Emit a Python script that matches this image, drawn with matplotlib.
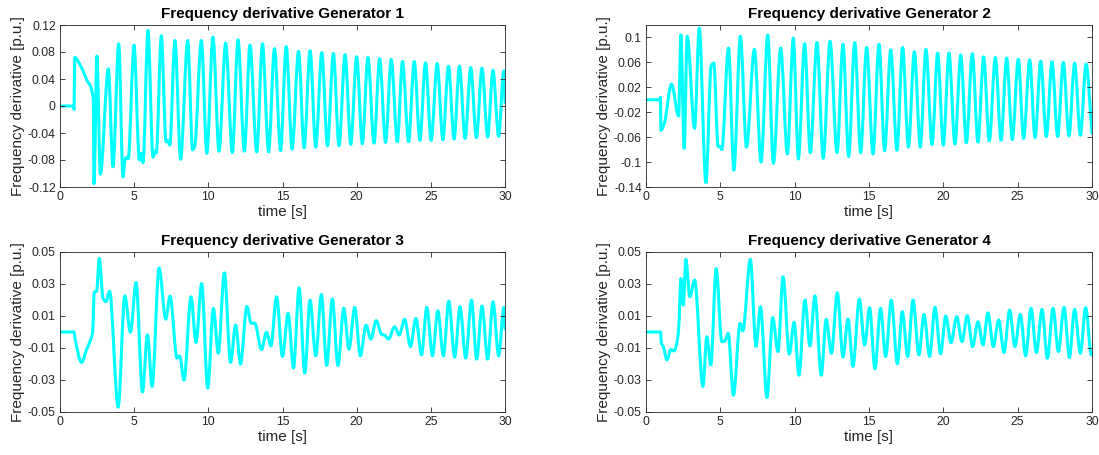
import matplotlib
matplotlib.use("Agg")
import matplotlib.pyplot as plt
import numpy as np
from matplotlib.path import Path
from matplotlib.patches import PathPatch

plt.rcParams['font.family'] = ['Liberation Sans', 'DejaVu Sans']

titles = ["Frequency derivative Generator 1", "Frequency derivative Generator 2",
          "Frequency derivative Generator 3", "Frequency derivative Generator 4"]
x_ticks = [0, 5, 10, 15, 20, 25, 30]

y_ticks_1 = [-0.12, -0.08, -0.04, 0, 0.04, 0.08, 0.12]
y_labels_1 = ['-0.12', '-0.08', '-0.04', '0', '0.04', '0.08', '0.12']
y_ticks_2 = [-0.14, -0.10, -0.06, -0.02, 0.02, 0.06, 0.10]
y_labels_2 = ['-0.14', '-0.1', '-0.06', '-0.02', '0.02', '0.06', '0.1']
y_ticks_34 = [-0.05, -0.03, -0.01, 0.01, 0.03, 0.05]
y_labels_34 = ['-0.05', '-0.03', '-0.01', '0.01', '0.03', '0.05']

# (time [s], frequency derivative [p.u.]) turning points
gen1 = [(0, 0), (0.90, 0), (0.95, -0.005), (0.99, 0.072), (1.35, 0.061), (1.80, 0.039),
        (2.25, 0.009), (2.29, -0.115), (2.49, 0.074), (2.72, -0.101), (3.26, 0.055),
        (3.57, -0.090), (3.96, 0.092), (4.25, -0.105), (4.38, -0.080), (4.49, -0.076),
        (4.60, -0.078), (4.99, 0.090), (5.35, -0.080), (5.46, -0.070), (5.60, -0.084),
        (5.93, 0.112), (6.27, -0.076), (6.38, -0.067), (6.49, -0.070), (6.83, 0.104),
        (7.15, -0.053), (7.26, -0.051), (7.40, -0.058), (7.75, 0.097), (8.13, -0.079),
        (8.61, 0.097), (8.94, -0.065), (9.08, -0.060), (9.53, 0.097), (9.90, -0.070),
        (10.31, 0.102), (10.72, -0.067), (11.17, 0.093), (11.62, -0.069), (12.00, 0.098),
        (12.43, -0.067), (12.81, 0.090), (13.26, -0.068), (13.65, 0.092), (14.06, -0.068),
        (14.46, 0.085), (14.87, -0.066), (15.25, 0.088), (15.65, -0.064), (16.08, 0.081),
        (16.46, -0.062), (16.86, 0.082), (17.24, -0.061), (17.65, 0.079), (18.03, -0.059),
        (18.43, 0.078), (18.81, -0.059), (19.22, 0.076), (19.60, -0.057), (20.00, 0.073),
        (20.38, -0.056), (20.76, 0.072), (21.17, -0.055), (21.55, 0.070), (21.95, -0.054),
        (22.33, 0.069), (22.74, -0.053), (23.09, 0.066), (23.50, -0.053), (23.88, 0.066),
        (24.26, -0.051), (24.64, 0.064), (25.02, -0.051), (25.43, 0.063), (25.81, -0.050),
        (26.19, 0.059), (26.57, -0.049), (26.93, 0.059), (27.31, -0.048), (27.69, 0.057),
        (28.07, -0.047), (28.45, 0.056), (28.83, -0.046), (29.19, 0.053), (29.57, -0.045),
        (29.92, 0.052), (30.0, 0.005)]

gen2 = [(0, 0), (0.94, 0), (0.97, 0.004), (1.00, -0.049), (1.23, -0.038), (1.72, 0.025),
        (2.19, -0.026), (2.35, 0.104), (2.57, -0.078), (2.77, 0.102), (3.27, -0.046),
        (3.58, 0.115), (4.03, -0.133), (4.38, 0.054), (4.56, 0.059), (4.85, -0.075),
        (4.98, -0.075), (5.10, -0.080), (5.55, 0.083), (5.91, -0.113), (6.35, 0.102),
        (6.76, -0.076), (7.29, 0.081), (7.74, -0.100), (8.19, 0.104), (8.57, -0.102),
        (9.06, 0.083), (9.51, -0.087), (9.91, 0.099), (10.25, -0.095), (10.67, 0.090),
        (11.05, -0.085), (11.50, 0.092), (11.92, -0.094), (12.38, 0.094), (12.85, -0.085),
        (13.25, 0.089), (13.63, -0.091), (14.04, 0.092), (14.44, -0.085), (14.84, 0.084),
        (15.27, -0.087), (15.67, 0.089), (16.05, -0.082), (16.46, 0.080), (16.88, -0.081),
        (17.26, 0.084), (17.65, -0.076), (18.05, 0.077), (18.45, -0.076), (18.83, 0.081),
        (19.24, -0.072), (19.62, 0.075), (20.00, -0.073), (20.38, 0.075), (20.78, -0.071),
        (21.17, 0.072), (21.55, -0.069), (21.95, 0.074), (22.33, -0.068), (22.71, 0.069),
        (23.09, -0.066), (23.50, 0.068), (23.88, -0.065), (24.26, 0.067), (24.64, -0.064),
        (25.04, 0.065), (25.40, -0.062), (25.81, 0.064), (26.17, -0.061), (26.55, 0.062),
        (26.93, -0.059), (27.31, 0.061), (27.69, -0.059), (28.07, 0.060), (28.45, -0.058),
        (28.83, 0.059), (29.22, -0.057), (29.60, 0.057), (30.0, -0.054)]

gen3 = [(0, 0), (0.94, 0), (1.03, -0.005), (1.46, -0.019), (1.79, -0.011), (2.06, -0.005),
        (2.20, 0.0), (2.31, 0.025), (2.47, 0.0255), (2.65, 0.046), (2.90, 0.021),
        (3.10, 0.019), (3.34, 0.0255), (3.92, -0.047), (4.37, 0.0226), (4.75, -0.0002),
        (5.13, 0.031), (5.56, -0.0375), (5.90, -0.0018), (6.21, -0.034), (6.68, 0.040),
        (7.13, 0.008), (7.42, 0.0224), (7.89, -0.0163), (8.07, -0.015), (8.36, -0.030),
        (8.83, 0.022), (9.17, -0.0066), (9.55, 0.0303), (9.96, -0.035), (10.34, 0.0147),
        (10.67, -0.0133), (11.08, 0.037), (11.50, -0.019), (11.84, 0.0044), (12.17, -0.020),
        (12.60, 0.016), (12.89, 0.0054), (13.12, 0.0056), (13.59, -0.011), (13.92, -0.0002),
        (14.22, -0.0087), (14.60, 0.022), (15.00, -0.0153), (15.38, 0.0116), (15.74, -0.0225),
        (16.12, 0.0276), (16.50, -0.0256), (16.86, 0.0199), (17.24, -0.0149), (17.62, 0.0235),
        (17.98, -0.0209), (18.36, 0.0206), (18.74, -0.0209), (19.13, 0.0148), (19.48, -0.0108),
        (19.87, 0.0154), (20.25, -0.0149), (20.63, 0.0042), (20.96, -0.0044), (21.32, 0.0071),
        (21.68, -0.0015), (21.88, -0.002), (22.15, -0.0044), (22.56, 0.0033), (22.87, -0.0019),
        (23.23, 0.0079), (23.63, -0.0091), (23.99, 0.0085), (24.37, -0.0143), (24.73, 0.0154),
        (25.11, -0.0149), (25.47, 0.0133), (25.85, -0.0149), (26.21, 0.0193), (26.61, -0.0157),
        (26.97, 0.0158), (27.35, -0.0163), (27.74, 0.0199), (28.09, -0.017), (28.45, 0.0162),
        (28.83, -0.017), (29.19, 0.0189), (29.57, -0.0149), (29.93, 0.0154), (30.0, 0.002)]

gen4 = [(0, 0), (0.98, 0), (1.03, -0.007), (1.16, -0.009), (1.41, -0.0174), (1.68, -0.011),
        (1.90, -0.0118), (2.05, -0.008), (2.19, 0.001), (2.35, 0.0334), (2.51, 0.0168),
        (2.68, 0.0454), (2.95, 0.022), (3.27, 0.0324), (3.83, -0.034), (4.09, -0.003),
        (4.36, -0.0205), (4.72, 0.0396), (5.10, -0.006), (5.30, -0.0056), (5.53, -0.0008),
        (5.88, -0.0395), (6.33, 0.0054), (6.51, 0.0007), (7.02, 0.0454), (7.40, -0.009),
        (7.70, 0.0158), (8.14, -0.041), (8.52, 0.009), (8.88, -0.0122), (9.22, 0.0345),
        (9.64, -0.0138), (9.96, 0.006), (10.29, -0.027), (10.69, 0.0199), (11.03, -0.0087),
        (11.36, 0.0226), (11.79, -0.027), (12.12, 0.0079), (12.47, -0.0133), (12.87, 0.0245),
        (13.25, -0.0157), (13.59, 0.0081), (13.92, -0.0215), (14.35, 0.0206), (14.71, -0.0081),
        (15.04, 0.0152), (15.40, -0.0230), (15.78, 0.0148), (16.12, -0.0153), (16.50, 0.0199),
        (16.91, -0.0198), (17.24, 0.0127), (17.60, -0.0153), (17.96, 0.0199), (18.36, -0.0143),
        (18.70, 0.011), (19.08, -0.0153), (19.44, 0.0154), (19.82, -0.0137), (20.16, 0.010),
        (20.52, -0.0066), (20.90, 0.0095), (21.26, -0.006), (21.61, 0.0102), (21.97, -0.0091),
        (22.33, 0.0064), (22.67, -0.0081), (23.00, 0.012), (23.36, -0.0091), (23.72, 0.0075),
        (24.08, -0.0128), (24.46, 0.0137), (24.82, -0.0091), (25.18, 0.011), (25.54, -0.0149),
        (25.90, 0.0148), (26.26, -0.0128), (26.64, 0.0141), (27.00, -0.0164), (27.38, 0.0148),
        (27.74, -0.0122), (28.12, 0.0154), (28.48, -0.016), (28.83, 0.0141), (29.22, -0.0133),
        (29.57, 0.0152), (29.96, -0.0143), (30.0, -0.013)]

series = [gen1, gen2, gen3, gen4]
yticks = [y_ticks_1, y_ticks_2, y_ticks_34, y_ticks_34]
ylabels = [y_labels_1, y_labels_2, y_labels_34, y_labels_34]
ylims = [(-0.12, 0.12), (-0.14, 0.12), (-0.05, 0.05), (-0.05, 0.05)]


def smooth_curve(points):
    """Cubic Bezier path through the read turning points (flat tangents at extrema)."""
    x = np.array([p[0] for p in points], dtype=float)
    y = np.array([p[1] for p in points], dtype=float)
    h = np.diff(x)
    d = np.diff(y) / h
    m = np.zeros_like(x)
    for k in range(1, len(x) - 1):
        if d[k - 1] * d[k] > 0:
            w1 = 2 * h[k] + h[k - 1]
            w2 = h[k] + 2 * h[k - 1]
            m[k] = (w1 + w2) / (w1 / d[k - 1] + w2 / d[k])
    m[-1] = d[-1]
    verts = [(x[0], y[0])]
    codes = [Path.MOVETO]
    for i in range(len(x) - 1):
        verts.append((x[i] + h[i] / 3, y[i] + m[i] * h[i] / 3))
        verts.append((x[i + 1] - h[i] / 3, y[i + 1] - m[i + 1] * h[i] / 3))
        verts.append((x[i + 1], y[i + 1]))
        codes += [Path.CURVE4] * 3
    return Path(verts, codes)


W, H = 1099, 455
# pixel boxes: left, top, right, bottom
boxes = [(60, 25, 505, 187), (646, 25, 1092, 187),
         (60, 252, 505, 412), (646, 252, 1092, 412)]

fig = plt.figure(figsize=(W / 100, H / 100), dpi=100)
dark = '#262626'
for i in range(4):
    l, t, r, b = boxes[i]
    ax = fig.add_axes([l / W, 1 - b / H, (r - l) / W, (b - t) / H])
    patch = PathPatch(smooth_curve(series[i]), facecolor='none', edgecolor='#00FFFF',
                      lw=2.2, joinstyle='round', capstyle='round')
    ax.add_patch(patch)
    ax.set_xlim(0, 30)
    ax.set_ylim(*ylims[i])
    ax.set_xticks(x_ticks)
    ax.set_xticklabels([str(v) for v in x_ticks])
    ax.set_yticks(yticks[i])
    ax.set_yticklabels(ylabels[i])
    ax.tick_params(direction='in', top=True, right=True, length=3.5, width=0.6,
                   colors=dark, labelsize=8.7, pad=3)
    for s in ax.spines.values():
        s.set_color(dark)
        s.set_linewidth(0.6)
    ax.set_title(titles[i], fontsize=11, fontweight='bold', color='black', pad=5)
    ax.set_xlabel('time [s]', fontsize=11, color=dark, labelpad=1)
    ax.set_ylabel('Frequency derivative [p.u.]', fontsize=11, color=dark, labelpad=2)

fig.savefig('out.png', dpi=100)
